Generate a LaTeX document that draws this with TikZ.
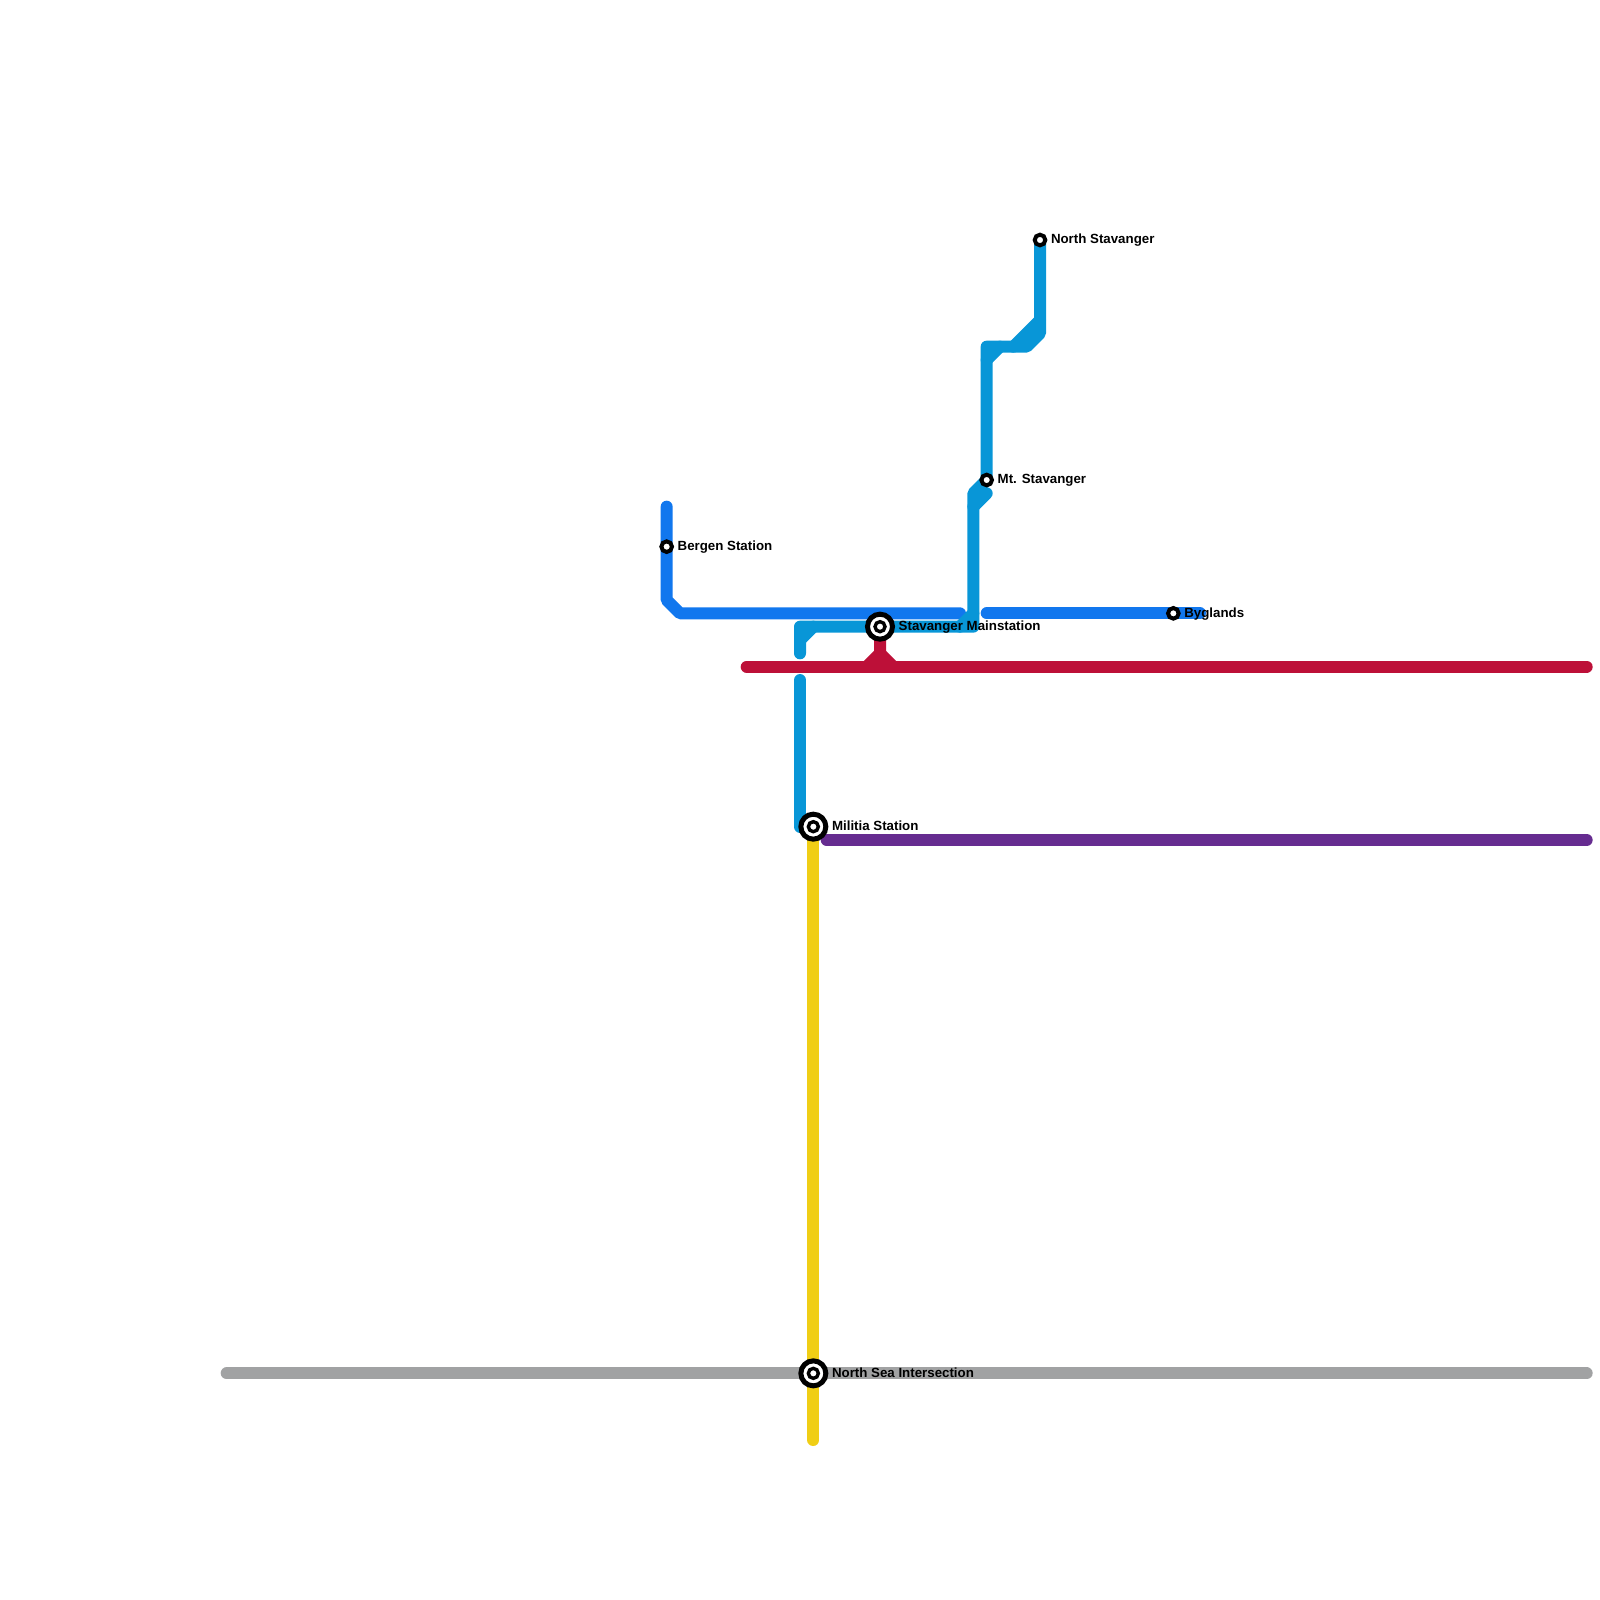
\documentclass[tikz,border=0pt]{standalone}
\usepackage{fontspec}
\setmainfont{Liberation Sans}
\usetikzlibrary{positioning}

\definecolor{lineblue}{HTML}{1177EE}
\definecolor{linecyan}{HTML}{0896D7}
\definecolor{linered}{HTML}{BD1038}
\definecolor{linepurple}{HTML}{662C90}
\definecolor{lineyellow}{HTML}{F0CE15}
\definecolor{linegrey}{HTML}{A1A2A3}

\tikzset{
  metro/.style={line width=12pt, line cap=round, line join=round},
  blueline/.style={metro, draw=lineblue},
  cyanline/.style={metro, draw=linecyan},
  redline/.style={metro, draw=linered},
  purpleline/.style={metro, draw=linepurple},
  yellowline/.style={metro, draw=lineyellow},
  greyline/.style={metro, draw=linegrey},
  stopmark/.style={circle, draw=black, fill=white, line width=4pt, minimum size=10.6pt, inner sep=0pt},
  hubmark/.style={circle, draw=black, fill=white, line width=5pt, minimum size=25pt, inner sep=0pt,
    path picture={\draw[line width=3.4pt] (path picture bounding box.center) circle (5pt);}},
  stoplabel/.style={font=\bfseries\fontsize{13.3}{14}\selectfont, text height=9.5pt, text depth=0pt, inner sep=0pt, yshift=1pt},
}

\begin{document}
\begin{tikzpicture}[x=13.333pt, y=-13.333pt]
			\useasboundingbox (0,0) rectangle (120,120);

			% Place the stations
			\coordinate (bergen) at (50,41);
			\coordinate (byglands) at (88,46);
			\coordinate (mtstav) at (74,36);
			\coordinate (northstav) at (78,18);
			\coordinate (stavanger) at (66,47);
			\coordinate (militia) at (61,62);
			\coordinate (northsea) at (61,103);

			% Draw the grey and yellow lines
			\draw[greyline] (17,103) -- (northsea) -- (119,103);
			\draw[yellowline] (militia) -- (northsea) -- (61,108);

			% Draw the purple line
			\draw[purpleline] (62,63) -- (119,63);

			% Draw the blue line
			\draw[blueline] (50,38) -- (bergen) -- (50,45) -- (51,46) -- (72,46);
			\draw[blueline] (74,46) -- (byglands) -- (90,46);

			% Draw the cyan line with its corners
			\draw[cyanline] (60,49) -- (60,47) -- (stavanger) -- (73,47) -- (73,37) -- (mtstav) -- (74,26) -- (77,26) -- (78,25) -- (northstav);
			\draw[cyanline] (60,48) -- (61,47);
			\draw[cyanline] (72,47) -- (73,46);
			\draw[cyanline] (73,38) -- (74,37);
			\draw[cyanline] (74,27) -- (75,26);
			\draw[cyanline] (76,26) -- (78,24);
			\draw[cyanline] (60,51) -- (60,62) -- (militia);

			% Draw the red line and its branch
			\draw[redline] (56,50) -- (119,50);
			\draw[redline] (stavanger) -- (66,49) -- (65,50);
			\draw[redline] (66,49) -- (67,50);

			% Draw the station marks
			\node[stopmark] (bergenmark) at (bergen) {};
			\node[stopmark] (byglandsmark) at (byglands) {};
			\node[stopmark] (mtstavmark) at (mtstav) {};
			\node[stopmark] (northstavmark) at (northstav) {};
			\node[hubmark] (stavangermark) at (stavanger) {};
			\node[hubmark] (militiamark) at (militia) {};
			\node[hubmark] (northseamark) at (northsea) {};

			% Label the stations
			\node[stoplabel, right=3.5pt of bergenmark] (bergenlabel) {Bergen Station};
			\node[stoplabel, right=3.5pt of byglandsmark] (byglandslabel) {Byglands};
			\node[stoplabel, right=3.5pt of mtstavmark] (mtstavlabel) {Mt. Stavanger};
			\node[stoplabel, right=3.5pt of northstavmark] (northstavlabel) {North Stavanger};
			\node[stoplabel, right=3.5pt of stavangermark] (stavangerlabel) {Stavanger Mainstation};
			\node[stoplabel, right=3.5pt of militiamark] (militialabel) {Militia Station};
			\node[stoplabel, right=3.5pt of northseamark] (northsealabel) {North Sea Intersection};

\end{tikzpicture}
\end{document}
